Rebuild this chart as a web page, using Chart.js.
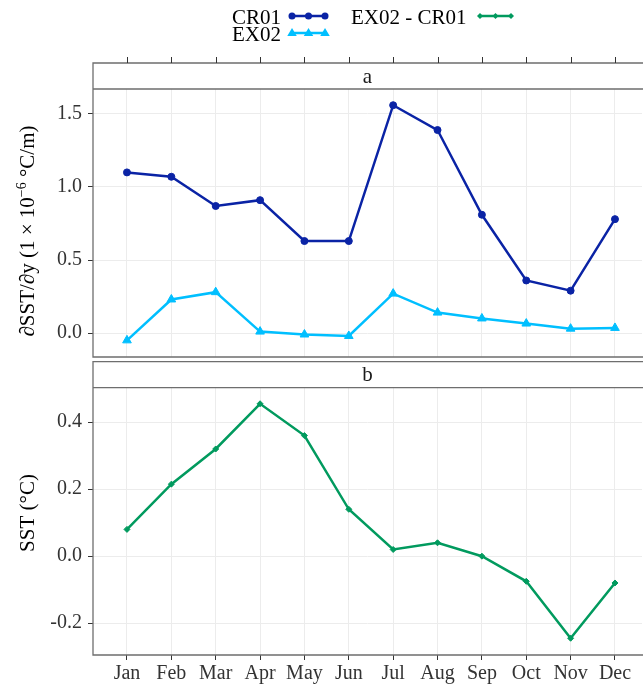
<!DOCTYPE html>
<html>
<head>
<meta charset="utf-8">
<script src="https://cdn.jsdelivr.net/npm/chart.js@4/dist/chart.umd.min.js"></script>
<style>
  html, body { margin: 0; padding: 0; background: #fff; overflow: hidden; }
  #wrap { position: relative; width: 643px; height: 687px; }
  canvas { position: absolute; left: 0; }
  #chartA { top: 0; }
  #chartB { top: 360px; }
</style>
</head>
<body>
<div id="wrap">
  <canvas id="chartA" width="643" height="360"></canvas>
  <canvas id="chartB" width="643" height="327"></canvas>
</div>
<script>
var months = ['Jan', 'Feb', 'Mar', 'Apr', 'May', 'Jun', 'Jul', 'Aug', 'Sep', 'Oct', 'Nov', 'Dec'];
var cr01 = [1.10, 1.07, 0.87, 0.91, 0.63, 0.63, 1.56, 1.39, 0.81, 0.36, 0.29, 0.78];
var ex02 = [-0.05, 0.23, 0.28, 0.01, -0.01, -0.02, 0.27, 0.14, 0.10, 0.065, 0.03, 0.035];
var diff = [0.08, 0.215, 0.32, 0.455, 0.36, 0.14, 0.02, 0.04, 0.00, -0.075, -0.245, -0.08];
var ticksA = [0, 0.5, 1.0, 1.5];
var ticksB = [-0.2, 0.0, 0.2, 0.4];

var serif = '"Liberation Serif", "DejaVu Serif", serif';
var colCR = '#0a23a5';
var colEX = '#00bfff';
var colDiff = '#019a5e';
var frame = '#6e6e6e';

function xy(arr) {
  return arr.map(function (v, i) { return { x: i, y: v }; });
}

// small marker drawing for the legend
function marker(ctx, style, x, y, r, color) {
  ctx.fillStyle = color;
  ctx.beginPath();
  if (style === 'circle') {
    ctx.arc(x, y, r, 0, Math.PI * 2);
  } else if (style === 'triangle') {
    ctx.moveTo(x, y - r);
    ctx.lineTo(x + r * 0.95, y + r * 0.6);
    ctx.lineTo(x - r * 0.95, y + r * 0.6);
    ctx.closePath();
  } else {
    ctx.moveTo(x, y - r); ctx.lineTo(x + r, y); ctx.lineTo(x, y + r); ctx.lineTo(x - r, y);
    ctx.closePath();
  }
  ctx.fill();
}

function legendKey(ctx, x0, x1, y, style, r, color) {
  ctx.strokeStyle = color;
  ctx.lineWidth = 2.5;
  ctx.beginPath(); ctx.moveTo(x0, y); ctx.lineTo(x1, y); ctx.stroke();
  marker(ctx, style, x0, y, r, color);
  marker(ctx, style, (x0 + x1) / 2, y, r, color);
  marker(ctx, style, x1, y, r, color);
}

function facetPlugin(cfg) {
  return {
    id: 'facet' + cfg.strip,
    afterDraw: function (chart) {
      var ctx = chart.ctx, ca = chart.chartArea, xs = chart.scales.x;
      ctx.save();
      // strip + panel frame
      ctx.strokeStyle = frame;
      ctx.lineWidth = 1.3;
      ctx.beginPath();
      ctx.moveTo(chart.width + 2, cfg.stripTop); ctx.lineTo(ca.left, cfg.stripTop);
      ctx.lineTo(ca.left, ca.bottom); ctx.lineTo(chart.width + 2, ca.bottom);
      ctx.moveTo(ca.left, ca.top); ctx.lineTo(chart.width + 2, ca.top);
      ctx.stroke();

      ctx.fillStyle = '#1a1a1a';
      ctx.font = '21px ' + serif;
      ctx.textAlign = 'center';
      ctx.textBaseline = 'middle';
      ctx.fillText(cfg.strip, (ca.left + ca.right) / 2, (cfg.stripTop + ca.top) / 2 + 1);

      // y title
      ctx.translate(27, cfg.titleY);
      ctx.rotate(-Math.PI / 2);
      ctx.textAlign = 'left';
      ctx.textBaseline = 'alphabetic';
      ctx.fillStyle = '#000';
      var big = '21px ' + serif, small = '14px ' + serif;
      var parts = cfg.title;
      var total = 0;
      parts.forEach(function (p) { ctx.font = p.sup ? small : big; total += ctx.measureText(p.t).width; });
      var cx = -total / 2;
      parts.forEach(function (p) {
        ctx.font = p.sup ? small : big;
        ctx.fillText(p.t, cx, p.sup ? -1 : 7);
        cx += ctx.measureText(p.t).width;
      });
      ctx.setTransform(1, 0, 0, 1, 0, 0);

      if (cfg.topTicks) {
        ctx.strokeStyle = '#333';
        ctx.lineWidth = 1;
        ctx.beginPath();
        months.forEach(function (m, i) {
          var px = Math.round(xs.getPixelForValue(i)) + 0.5;
          ctx.moveTo(px, cfg.stripTop - 6); ctx.lineTo(px, cfg.stripTop);
        });
        ctx.stroke();
      }

      if (cfg.legend) {
        ctx.font = '21px ' + serif;
        ctx.fillStyle = '#000';
        ctx.textAlign = 'left';
        ctx.textBaseline = 'middle';
        ctx.fillText('CR01', 232, 18);
        ctx.fillText('EX02', 232, 35);
        ctx.fillText('EX02 - CR01', 351, 18);
        legendKey(ctx, 292, 325, 16, 'circle', 3.5, colCR);
        legendKey(ctx, 292, 325, 33, 'triangle', 5, colEX);
        legendKey(ctx, 480, 511, 16, 'diamond', 3, colDiff);
      }
      ctx.restore();
    }
  };
}

function xScale(showLabels) {
  return {
    type: 'linear',
    min: -0.766,
    max: 11.609,
    afterBuildTicks: function (s) { s.ticks = months.map(function (m, i) { return { value: i }; }); },
    afterFit: function (s) {
      s.height = showLabels ? 32 : 0;
      s.paddingLeft = 0; s.paddingRight = 0; s.paddingTop = 0; s.paddingBottom = 0;
    },
    border: { display: false },
    grid: { color: '#ececec', lineWidth: 1, drawTicks: showLabels, tickLength: 5, tickColor: '#333' },
    ticks: {
      display: showLabels,
      padding: 2,
      color: '#333',
      font: { family: serif, size: 20 },
      maxRotation: 0,
      autoSkip: false,
      callback: function (v) { return months[v]; }
    }
  };
}

function yScale(min, max, tickVals) {
  return {
    min: min,
    max: max,
    afterBuildTicks: function (s) { s.ticks = tickVals.map(function (v) { return { value: v }; }); },
    afterFit: function (s) {
      s.width = 93;
      s.paddingLeft = 0; s.paddingRight = 0; s.paddingTop = 0; s.paddingBottom = 0;
    },
    border: { display: false },
    grid: { color: '#ececec', lineWidth: 1, tickLength: 5, tickColor: '#333' },
    ticks: {
      padding: 6,
      color: '#333',
      font: { family: serif, size: 20 },
      callback: function (v) { return v.toFixed(1); }
    }
  };
}

function series(label, data, color, style, radius) {
  return {
    label: label,
    data: xy(data),
    borderColor: color,
    backgroundColor: color,
    borderWidth: 2.5,
    pointStyle: style,
    pointRadius: radius,
    pointBackgroundColor: color,
    pointBorderColor: color,
    pointBorderWidth: 1,
    tension: 0,
    clip: false
  };
}

new Chart(document.getElementById('chartA'), {
  type: 'line',
  data: {
    datasets: [
      series('CR01', cr01, colCR, 'circle', 3.5),
      series('EX02', ex02, colEX, 'triangle', 5)
    ]
  },
  options: {
    responsive: false,
    animation: false,
    layout: { autoPadding: false, padding: { top: 89, bottom: 3, left: 0, right: 1 } },
    plugins: { legend: { display: false }, tooltip: { enabled: false } },
    scales: { x: xScale(false), y: yScale(-0.164, 1.671, ticksA) }
  },
  plugins: [facetPlugin({
    strip: 'a', stripTop: 63, titleY: 231, topTicks: true, legend: true,
    title: [{ t: '\u2202SST/\u2202y (1 \u00d7 10' }, { t: '\u22126', sup: true }, { t: ' \u00b0C/m)' }]
  })]
});

new Chart(document.getElementById('chartB'), {
  type: 'line',
  data: {
    datasets: [
      series('EX02 - CR01', diff, colDiff, 'rectRot', 3)
    ]
  },
  options: {
    responsive: false,
    animation: false,
    layout: { autoPadding: false, padding: { top: 27.7, bottom: 0, left: 0, right: 1 } },
    plugins: { legend: { display: false }, tooltip: { enabled: false } },
    scales: { x: xScale(true), y: yScale(-0.295, 0.503, ticksB) }
  },
  plugins: [facetPlugin({
    strip: 'b', stripTop: 1.7, titleY: 153, topTicks: false, legend: false,
    title: [{ t: 'SST (\u00b0C)' }]
  })]
});
</script>
</body>
</html>
